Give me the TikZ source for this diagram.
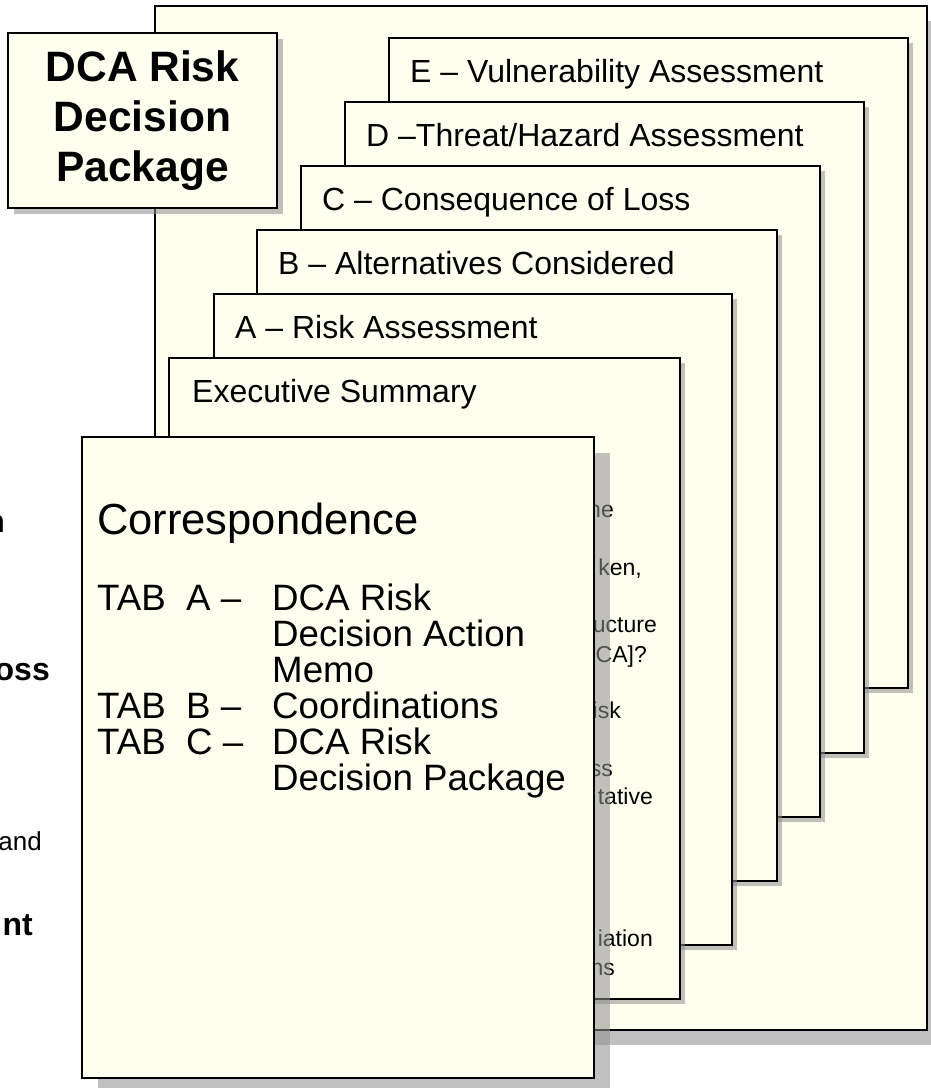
\documentclass[tikz,border=0pt]{standalone}
\usepackage{fontspec}
\setmainfont{Liberation Sans}
\usetikzlibrary{shadows}
\definecolor{paper}{RGB}{255,255,240}
\definecolor{shade}{RGB}{143,143,143}
\tikzset{
  sheet/.style n args={3}{draw=black, line width=2pt, fill=paper,
    inner sep=0pt, outer sep=0pt, anchor=north west,
    minimum width=#1pt, minimum height=#2pt,
    drop shadow={shadow xshift=#3pt, shadow yshift=-#3pt, fill=shade, opacity=0.56}},
  tablabel/.style={anchor=base west, inner sep=0pt, font=\fontsize{32}{36}\selectfont},
  peek/.style={anchor=base east, inner sep=0pt, font=\fontsize{23}{26}\selectfont},
  corrtxt/.style={anchor=base west, inner sep=0pt, font=\fontsize{36.7}{42}\selectfont},
  edgebold/.style={anchor=base east, inner sep=0pt, font=\bfseries\fontsize{32}{36}\selectfont},
  edgereg/.style={anchor=base east, inner sep=0pt, font=\fontsize{26}{30}\selectfont}
}
\begin{document}
\begin{tikzpicture}[x=1pt,y=-1pt]
\useasboundingbox (0,0) rectangle (930,1088);

% fragments of slide text at the left margin
\node[edgebold] (fragN) at (5,532) {n};
\node[edgebold] (fragLoss) at (50,680) {oss};
\node[edgereg] (fragAnd) at (42,850) {and};
\node[edgebold] (fragNt) at (33,935) {nt};

% package folder
\node[sheet={772}{1024}{15}] (pkg) at (155,6) {};

% tabbed sections, back to front
\node[sheet={519}{650}{5}] (tabE) at (389,38) {};
\node[tablabel] (labE) at ([xshift=21pt,yshift=-44pt]tabE.north west) {E – Vulnerability Assessment};
\node[sheet={519}{651}{5}] (tabD) at (345,102) {};
\node[tablabel] (labD) at ([xshift=21pt,yshift=-44pt]tabD.north west) {D –Threat/Hazard Assessment};
\node[sheet={519}{651}{5}] (tabC) at (301,166) {};
\node[tablabel] (labC) at ([xshift=21pt,yshift=-44pt]tabC.north west) {C – Consequence of Loss};
\node[sheet={520}{651}{5}] (tabB) at (257,230) {};
\node[tablabel] (labB) at ([xshift=21pt,yshift=-44pt]tabB.north west) {B – Alternatives Considered};
\node[sheet={518}{651}{5}] (tabA) at (214,294) {};
\node[tablabel] (labA) at ([xshift=21pt,yshift=-44pt]tabA.north west) {A – Risk Assessment};
\node[sheet={511}{641}{5}] (exec) at (169,358) {};
\node[tablabel] (labX) at ([xshift=23pt,yshift=-44pt]exec.north west) {Executive Summary};

% executive summary lines showing past the front sheet
\node[peek] (p1) at (614,517) {he};
\node[peek] (p2) at (642,575) {ken,};
\node[peek] (p3) at (657,632) {ucture};
\node[peek] (p4) at (647,662) {CA]?};
\node[peek] (p5) at (621,718) {isk};
\node[peek] (p6) at (613,776) {ss};
\node[peek] (p7) at (653,804) {tative};
\node[peek] (p8) at (653,946) {iation};
\node[peek] (p9) at (615,975) {ns};

% correspondence cover sheet
\node[sheet={512}{641}{16}] (corr) at (82,437) {};
\node[anchor=base west, inner sep=0pt, font=\fontsize{43.5}{48}\selectfont] (corrT) at (97,534) {Correspondence};
\node[corrtxt] (tA) at (97,610) {TAB~~A –};
\node[corrtxt] (tA1) at (272,610) {DCA Risk};
\node[corrtxt] (tA2) at (272,646) {Decision Action};
\node[corrtxt] (tA3) at (272,682) {Memo};
\node[corrtxt] (tB) at (97,718) {TAB~~B –};
\node[corrtxt] (tB1) at (272,718) {Coordinations};
\node[corrtxt] (tC) at (97,754) {TAB~~C –};
\node[corrtxt] (tC1) at (272,754) {DCA Risk};
\node[corrtxt] (tC2) at (272,790) {Decision Package};

% title card
\node[sheet={269}{175}{6}] (dca) at (8,33) {};
\node[font=\bfseries\fontsize{42.5}{50}\selectfont, align=center, inner sep=0pt] (dcaT) at (dca.center) {DCA Risk\\Decision\\Package};
\end{tikzpicture}
\end{document}
